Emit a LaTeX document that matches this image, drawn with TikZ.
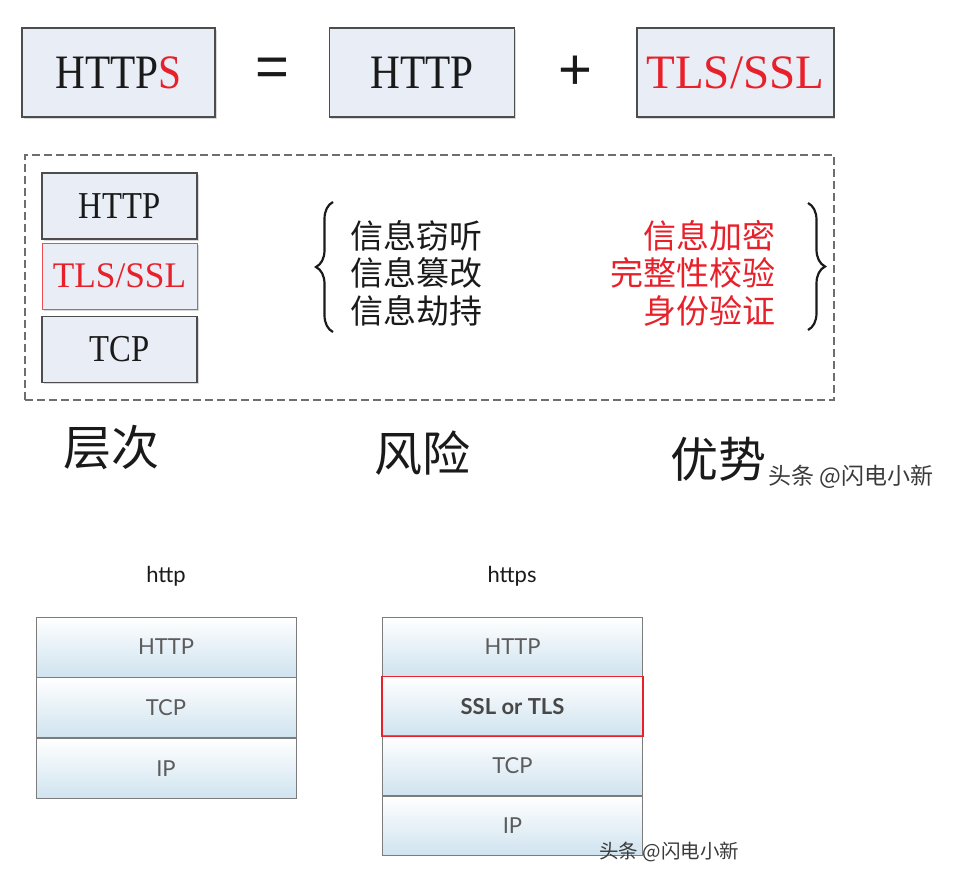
\documentclass[tikz,border=0pt]{standalone}
\usepackage{fontspec}
\setmainfont{Liberation Serif}
\newfontfamily\boxfont[FakeStretch=0.86]{Liberation Serif}
\newfontfamily\boxfontwide[FakeStretch=0.98]{Liberation Serif}
\newfontfamily\opfont{Liberation Sans}
\newfontfamily\cjk{Noto Sans CJK SC}
\newfontfamily\stackfont{Lato}
\usetikzlibrary{positioning,calc,shadows,decorations.pathreplacing}
\definecolor{ink}{HTML}{1A1A1A}
\definecolor{edge}{HTML}{4D4D4D}
\definecolor{boxfill}{HTML}{E8EDF6}
\definecolor{alarm}{HTML}{E8202A}
\definecolor{dashgray}{HTML}{6E6E6E}
\definecolor{stackline}{HTML}{7C7C7C}
\definecolor{stackblue}{HTML}{CFE3EF}
\definecolor{stacktext}{HTML}{5C5C5C}
\definecolor{wm}{HTML}{3A3A3A}

\begin{document}
\begin{tikzpicture}[x=1pt, y=1pt,
  proto/.style={draw=edge, line width=1.4pt, fill=boxfill, text=ink, minimum height=89pt, inner sep=0pt,
    font=\boxfont\fontsize{48}{52}\selectfont, drop shadow={shadow xshift=1.5pt, shadow yshift=-1.5pt, opacity=0.3}},
  op/.style={font=\opfont\fontsize{58}{60}\selectfont, text=ink},
  tier/.style={proto, minimum width=155pt, minimum height=66pt, font=\boxfont\fontsize{38}{40}\selectfont},
  dashbox/.style={draw=dashgray, line width=1.5pt, dash pattern=on 8pt off 4pt},
  cjktext/.style={font=\cjk\fontsize{33}{37.5}\selectfont, inner sep=0pt},
  brace/.style={decorate, decoration={brace, amplitude=17pt}, line width=2.2pt, draw=ink},
  head/.style={font=\cjk\fontsize{48}{52}\selectfont, text=ink},
  wmark/.style={font=\cjk\fontsize{23}{25}\selectfont, text=wm, inner sep=0pt},
  stack/.style={draw=stackline, line width=0.8pt, top color=white, bottom color=stackblue, minimum width=260pt,
    minimum height=60pt, inner sep=0pt, text=stacktext, font=\stackfont\fontsize{22}{24}\selectfont},
  stackcap/.style={font=\stackfont\fontsize{22}{24}\selectfont, text=ink},
]
\useasboundingbox (0,0) rectangle (971,-879);

\node[proto, minimum width=193pt] (https) at (118.5,-72.5) {HTTP\textcolor{alarm}{S}};
\node[proto, minimum width=185pt, right=113pt of https] (http) {HTTP};
\node[proto, minimum width=197pt, right=121pt of http, text=alarm, font=\boxfontwide\fontsize{48}{52}\selectfont] (tls) {TLS/SSL};
\node[op] (eq) at ($(https.east)!0.5!(http.west)$) {=};
\node[op] (plus) at ($(http.east)!0.5!(tls.west)$) {+};

\node[dashbox, minimum width=809pt, minimum height=245pt] (scopebox) at (429.5,-277.5) {};
\node[tier] (thttp) at (119.5,-206) {HTTP};
\node[tier, below=3pt of thttp, draw=alarm!80, line width=1pt, text=alarm, font=\boxfontwide\fontsize{36}{40}\selectfont] (ttls) {TLS/SSL};
\node[tier, below=6pt of ttls] (ttcp) {TCP};

\node[cjktext, anchor=west, align=left, text=ink] (risk) at (350,-273) {信息窃听\\信息篡改\\信息劫持};
\node[cjktext, anchor=east, align=right, text=alarm] (gain) at (776,-273) {信息加密\\完整性校验\\身份验证};
\draw[brace] ($(risk.west)+(-17,-59)$) -- ($(risk.west)+(-17,71)$);
\draw[brace] ($(gain.east)+(32,70)$) -- ($(gain.east)+(32,-57)$);

\node[head] (layers) at (111,-447) {层次};
\node[head] (risks) at (422,-453) {风险};
\node[head] (gains) at (718,-459) {优势};
\node[wmark, anchor=south west] (wm1) at (768,-489) {头条 @闪电小新};

\node[stackcap] (httpcap) at (166,-576) {http};
\node[stack] (h1) at (166,-647) {HTTP};
\node[stack, below=0pt of h1] (t1) {TCP};
\node[stack, below=0pt of t1] (i1) {IP};

\node[stackcap] (httpscap) at (512,-576) {https};
\node[stack, minimum height=59pt] (h2) at (512.5,-646.5) {HTTP};
\node[stack, minimum height=59pt, below=0pt of h2, font=\stackfont\bfseries\fontsize{22}{24}\selectfont, text=ink!80] (s2) {SSL or TLS};
\node[stack, minimum height=59pt, below=0pt of s2] (t2) {TCP};
\node[stack, minimum height=59pt, below=0pt of t2] (i2) {IP};
\draw[alarm, line width=1.3pt] (s2.north west) rectangle (s2.south east);
\node[wmark, anchor=south west, font=\cjk\fontsize{19.5}{21}\selectfont] (wm2) at (599,-862) {头条 @闪电小新};
\end{tikzpicture}
\end{document}
